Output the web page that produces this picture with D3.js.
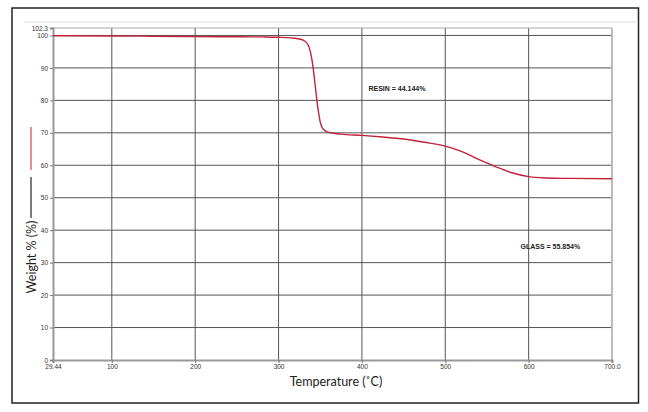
<!DOCTYPE html>
<html>
<head>
<meta charset="utf-8">
<script src="https://cdn.jsdelivr.net/npm/d3@7"></script>
<style>
body { margin: 0; background: #fff; }
svg { display: block; }
.tick text { font-family: "Liberation Sans", Arial, sans-serif; font-size: 6.5px; fill: #333; }
</style>
</head>
<body>
<div id="chart"></div>
<script>
// TGA curve
var temps = [29.44, 100, 150, 200, 250, 280, 300, 315, 325, 330, 335, 338, 340, 342, 344, 346, 348, 350, 352, 355, 358, 365, 375, 400, 425, 450, 475, 500, 520, 540, 560, 580, 600, 620, 650, 700];
var weights = [99.9, 99.85, 99.75, 99.65, 99.6, 99.55, 99.45, 99.25, 98.9, 98.5, 97.3, 95.2, 92.6, 89, 84.5, 80, 76.2, 73.3, 71.8, 70.8, 70.3, 69.9, 69.6, 69.2, 68.7, 68.1, 67.1, 65.9, 64.2, 61.8, 59.6, 57.7, 56.5, 56.1, 55.95, 55.85];

var xTicks = [29.44, 100, 200, 300, 400, 500, 600, 700];
var xTickLabels = ["29.44", "100", "200", "300", "400", "500", "600", "700.0"];
var yTicks = [0, 10, 20, 30, 40, 50, 60, 70, 80, 90, 100, 102.3];
var yTickLabels = ["0", "10", "20", "30", "40", "50", "60", "70", "80", "90", "100", "102.3"];

var annotations = [
    {text: "RESIN = 44.144%", t: 442, w: 83.0},
    {text: "GLASS = 55.854%", t: 626, w: 34.3}
];

var W = 648, H = 412;
var margin = {top: 28, right: 36, bottom: 52, left: 53};
var width = W - margin.left - margin.right;
var height = H - margin.top - margin.bottom;

var svg = d3.select("#chart").append("svg")
    .attr("width", W)
    .attr("height", H);

// outer frame
svg.append("rect")
    .attr("x", 12).attr("y", 8)
    .attr("width", 626.5).attr("height", 395)
    .attr("fill", "none")
    .attr("stroke", "#222")
    .attr("stroke-width", 1.5);
svg.append("line")
    .attr("x1", 24).attr("x2", 638)
    .attr("y1", 22).attr("y2", 22)
    .attr("stroke", "#ddd");

var g = svg.append("g")
    .attr("transform", "translate(" + margin.left + "," + margin.top + ")");

var x = d3.scaleLinear().domain([29.44, 700]).range([0, width]);
var y = d3.scaleLinear().domain([0, 102.3]).range([height, 0]);

// grid
g.append("g").selectAll("line")
    .data([100, 200, 300, 400, 500, 600])
    .join("line")
    .attr("x1", d => x(d)).attr("x2", d => x(d))
    .attr("y1", 0).attr("y2", height)
    .attr("stroke", "#555").attr("stroke-width", 1);
g.append("g").selectAll("line")
    .data([10, 20, 30, 40, 50, 60, 70, 80, 90, 100])
    .join("line")
    .attr("x1", 0).attr("x2", width)
    .attr("y1", d => y(d)).attr("y2", d => y(d))
    .attr("stroke", "#555").attr("stroke-width", 1);

// light top / right border
g.append("line")
    .attr("x1", 0).attr("x2", width)
    .attr("y1", y(102.3)).attr("y2", y(102.3))
    .attr("stroke", "#aaa").attr("stroke-width", 1.2);
g.append("line")
    .attr("x1", x(700)).attr("x2", x(700))
    .attr("y1", 0).attr("y2", height)
    .attr("stroke", "#bbb").attr("stroke-width", 2);

// axes
var xAxis = g.append("g")
    .attr("transform", "translate(0," + height + ")")
    .call(d3.axisBottom(x).tickValues(xTicks).tickSize(3).tickPadding(1)
        .tickFormat((d, i) => xTickLabels[i]));
var yAxis = g.append("g")
    .call(d3.axisLeft(y).tickValues(yTicks).tickSize(3).tickPadding(2)
        .tickFormat((d, i) => yTickLabels[i]));
[xAxis, yAxis].forEach(function(a) {
    a.select(".domain").attr("stroke", "#999").attr("stroke-width", 2);
    a.selectAll(".tick line").attr("stroke", "#777");
});

// curve
var line = d3.line()
    .x((d, i) => x(temps[i]))
    .y(d => y(d))
    .curve(d3.curveMonotoneX);
g.append("path")
    .datum(weights)
    .attr("d", line)
    .attr("fill", "none")
    .attr("stroke", "#c4213a")
    .attr("stroke-width", 1.4);

// annotations
g.selectAll(".ann")
    .data(annotations)
    .join("text")
    .attr("class", "ann")
    .attr("x", d => x(d.t))
    .attr("y", d => y(d.w))
    .attr("text-anchor", "middle")
    .attr("font-family", "Liberation Sans, Arial, sans-serif")
    .attr("font-size", 7)
    .attr("font-weight", "bold")
    .attr("fill", "#222")
    .text(d => d.text);

// axis titles
svg.append("text")
    .attr("x", 336).attr("y", 386)
    .attr("text-anchor", "middle")
    .attr("font-family", "Lato, sans-serif")
    .attr("font-size", 12.5)
    .attr("fill", "#222")
    .text("Temperature (˚C)");

var yt = svg.append("g").attr("transform", "translate(31,257) rotate(-90)");
yt.append("text")
    .attr("x", 0).attr("y", 4.5)
    .attr("text-anchor", "middle")
    .attr("font-family", "Lato, sans-serif")
    .attr("font-size", 12.5)
    .attr("fill", "#222")
    .text("Weight % (%)");
yt.append("line")
    .attr("x1", 39).attr("x2", 80)
    .attr("y1", 0).attr("y2", 0)
    .attr("stroke", "#222").attr("stroke-width", 1.2);
yt.append("line")
    .attr("x1", 87).attr("x2", 130)
    .attr("y1", 0).attr("y2", 0)
    .attr("stroke", "#d04050").attr("stroke-width", 1.2);
</script>
</body>
</html>
